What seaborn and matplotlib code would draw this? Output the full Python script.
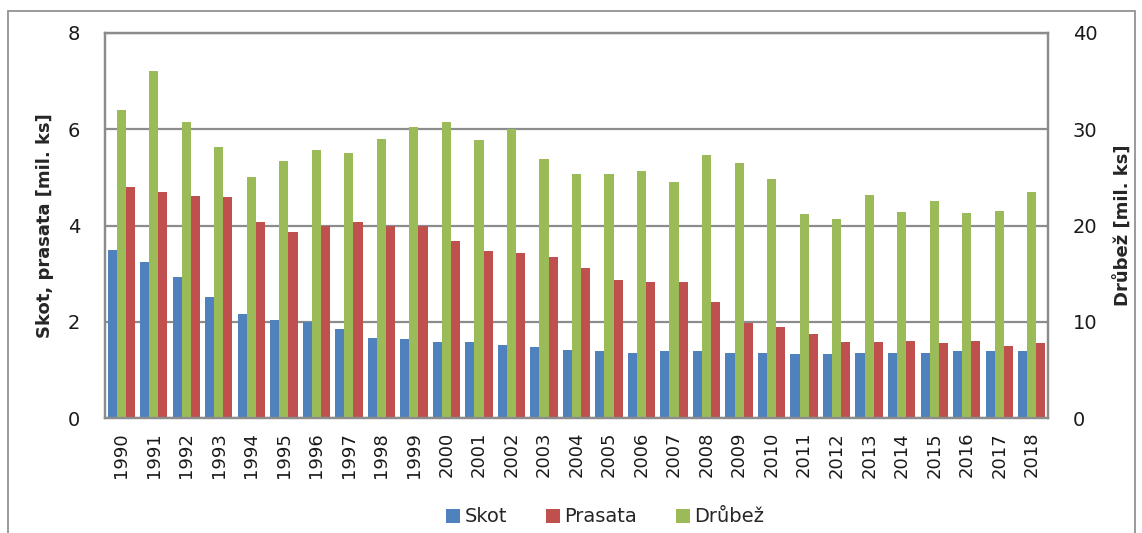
import numpy as np
import pandas as pd
import matplotlib
matplotlib.use("Agg")
import matplotlib.pyplot as plt
from matplotlib.patches import Patch
from matplotlib.lines import Line2D
import seaborn as sns

# Livestock numbers in the Czech Republic, millions of head
years = list(range(1990, 2019))
skot = [3.50, 3.24, 2.94, 2.51, 2.16, 2.03, 2.00, 1.85, 1.67, 1.64,
        1.57, 1.57, 1.51, 1.47, 1.42, 1.40, 1.36, 1.40, 1.40, 1.36,
        1.35, 1.33, 1.33, 1.35, 1.35, 1.36, 1.39, 1.40, 1.40]
prasata = [4.79, 4.69, 4.61, 4.60, 4.07, 3.86, 4.00, 4.08, 4.00, 4.00,
           3.68, 3.47, 3.43, 3.35, 3.12, 2.87, 2.83, 2.82, 2.42, 1.97,
           1.90, 1.74, 1.58, 1.58, 1.60, 1.56, 1.60, 1.49, 1.55]
drubez = [32.0, 36.1, 30.8, 28.2, 25.0, 26.7, 27.8, 27.5, 29.0, 30.2,
          30.8, 28.9, 30.0, 26.9, 25.4, 25.3, 25.7, 24.5, 27.3, 26.5,
          24.8, 21.2, 20.7, 23.2, 21.4, 22.5, 21.3, 21.5, 23.5]

series_order = ["Skot", "Drůbež", "Prasata"]
legend_order = ["Skot", "Prasata", "Drůbež"]
colors = {"Skot": "#4F81BD", "Prasata": "#C0504D", "Drůbež": "#9BBB59"}

df = pd.DataFrame({
    "rok": [str(y) for y in years] * 3,
    "hodnota": skot + prasata + drubez,
    "druh": ["Skot"] * len(years) + ["Prasata"] * len(years) + ["Drůbež"] * len(years),
})
primary = df[df["druh"].isin(["Skot", "Prasata"])]
secondary = df[df["druh"] == "Drůbež"]

sns.set_theme(style="white")
plt.rcParams["font.family"] = ["DejaVu Sans"]
grid_color = "#8c8c8c"

fig = plt.figure(figsize=(11.42, 5.33), dpi=100)
ax = fig.add_axes([105 / 1142, 1 - 418 / 533, 943 / 1142, 385 / 533])

bar_kw = dict(x="rok", y="hodnota", hue="druh", hue_order=series_order,
              palette=colors, width=0.84, saturation=1, legend=False,
              errorbar=None, dodge=True, linewidth=0)
sns.barplot(data=primary, ax=ax, **bar_kw)
ax2 = ax.twinx()
sns.barplot(data=secondary, ax=ax2, **bar_kw)

ax.set_ylim(0, 8)
ax2.set_ylim(0, 40)
ax.set_yticks([0, 2, 4, 6, 8])
ax2.set_yticks([0, 10, 20, 30, 40])
ax.set_xlim(-0.5, len(years) - 0.5)

ax.set_axisbelow(True)
ax.yaxis.grid(True, color=grid_color, linewidth=1.6)
ax.xaxis.grid(False)
ax2.grid(False)
ax2.set_zorder(ax.get_zorder() + 1)
ax2.patch.set_visible(False)

for a in (ax, ax2):
    for side in a.spines.values():
        side.set_visible(True)
        side.set_color(grid_color)
        side.set_linewidth(1.6)
    a.set_xlabel("")
    a.tick_params(axis="both", length=0)

ax.tick_params(axis="y", labelsize=14, pad=18, colors="#1a1a1a")
ax2.tick_params(axis="y", labelsize=14, pad=18, colors="#1a1a1a")
ax.tick_params(axis="x", labelsize=13, pad=10, rotation=90, colors="#1a1a1a")

ax.set_ylabel("Skot, prasata [mil. ks]", fontsize=13, fontweight="bold", labelpad=10)
ax2.set_ylabel("Drůbež [mil. ks]", fontsize=13, fontweight="bold", labelpad=12,
               rotation=90)

handles = [Patch(facecolor=colors[k], edgecolor="none", label=k) for k in legend_order]
fig.legend(handles=handles, loc="center", bbox_to_anchor=(605 / 1142, 1 - 517 / 533),
           ncol=3, frameon=False, fontsize=14, handlelength=0.75, handleheight=0.75,
           handletextpad=0.2, columnspacing=2.0)

# Outer chart frame
frame_kw = dict(color="#9a9a9a", linewidth=1.4, transform=fig.transFigure)
x0, x1, y1 = 8 / 1142, 1135 / 1142, 1 - 11 / 533
fig.add_artist(Line2D([x0, x0], [0, y1], **frame_kw))
fig.add_artist(Line2D([x0, x1], [y1, y1], **frame_kw))
fig.add_artist(Line2D([x1, x1], [0, y1], **frame_kw))

fig.savefig("out.png", dpi=100)
